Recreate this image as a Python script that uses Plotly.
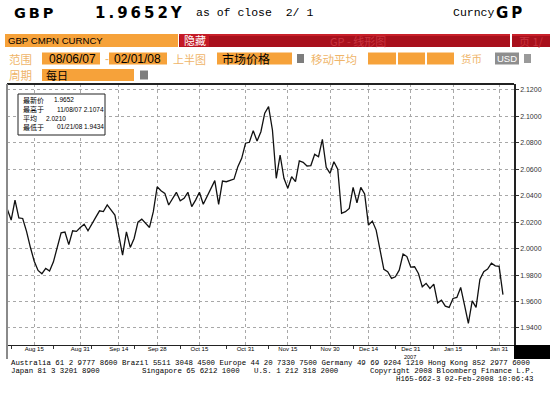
import plotly.graph_objects as go
import pandas as pd

# ---------------- data ----------------
dates = pd.bdate_range("2007-08-06", "2008-02-01").strftime("%Y-%m-%d").tolist()
gbp_close = [
    2.0297, 2.0216, 2.0367, 2.0233, 2.0228, 2.0130, 2.0010, 1.9905, 1.9835, 1.9810,
    1.9850, 1.9830, 1.9900, 2.0010, 2.0120, 2.0125, 2.0030, 2.0135, 2.0130, 2.0160,
    2.0185, 2.0135, 2.0191, 2.0236, 2.0286, 2.0280, 2.0330, 2.0290, 2.0254, 2.0102,
    1.9950, 2.0127, 2.0009, 2.0077, 2.0200, 2.0223, 2.0191, 2.0160, 2.0279, 2.0468,
    2.0438, 2.0418, 2.0330, 2.0380, 2.0426, 2.0362, 2.0380, 2.0426, 2.0317, 2.0367,
    2.0426, 2.0335, 2.0392, 2.0456, 2.0514, 2.0335, 2.0511, 2.0506, 2.0514, 2.0526,
    2.0620, 2.0683, 2.0797, 2.0804, 2.0892, 2.0814, 2.0884, 2.1024, 2.1074, 2.0897,
    2.0532, 2.0708, 2.0532, 2.0456, 2.0544, 2.0506, 2.0663, 2.0653, 2.0625, 2.0628,
    2.0713, 2.0695, 2.0827, 2.0615, 2.0569, 2.0657, 2.0600, 2.0267, 2.0279, 2.0304,
    2.0463, 2.0347, 2.0463, 2.0413, 2.0178, 2.0208, 2.0140, 1.9989, 1.9843, 1.9825,
    1.9775, 1.9787, 1.9837, 1.9959, 1.9940, 1.9860, 1.9863, 1.9812, 1.9711, 1.9737,
    1.9699, 1.9731, 1.9590, 1.9610, 1.9565, 1.9555, 1.9623, 1.9631, 1.9706, 1.9572,
    1.9434, 1.9605, 1.9555, 1.9767, 1.9825, 1.9845, 1.9890, 1.9870, 1.9866, 1.9652,
]
x_tick_dates = ["2007-08-15", "2007-08-31", "2007-09-14", "2007-09-28", "2007-10-15",
                "2007-10-31", "2007-11-15", "2007-11-30", "2007-12-14", "2007-12-31",
                "2008-01-15", "2008-01-31"]
x_tick_text = ["Aug 15", "Aug 31", "Sep 14", "Sep 28", "Oct 15", "Oct 31",
               "Nov 15", "Nov 30", "Dec 14", "Dec 31", "Jan 15", "Jan 31"]
x_minor_dates = ["2007-08-07", "2007-08-22", "2007-09-05", "2007-09-20", "2007-10-08",
                 "2007-10-24", "2007-11-08", "2007-11-23", "2007-12-10", "2007-12-25",
                 "2008-01-08", "2008-01-23"]
y_tick_vals = [1.94, 1.96, 1.98, 2.00, 2.02, 2.04, 2.06, 2.08, 2.10, 2.12]
y_tick_text = ["1.9400", "1.9600", "1.9800", "2.0000", "2.0200",
               "2.0400", "2.0600", "2.0800", "2.1000", "2.1200"]

stat_labels = ["最新价", "最高于", "平均", "最低于"]
stat_values = ["1.9652", "11/08/07 2.1074", "2.0210", "01/21/08 1.9434"]

header_ticker = "GBP"
header_price = "1.9652Y"
header_close = "as of close  2/ 1"
range_start_txt = "08/06/07"
range_end_txt = "02/01/08"

footer_line1 = "Australia 61 2 9777 8600 Brazil 5511 3048 4500 Europe 44 20 7330 7500 Germany 49 69 9204 1210 Hong Kong 852 2977 6000"
footer_line2 = ["Japan 81 3 3201 8900", "Singapore 65 6212 1000", "U.S. 1 212 318 2000",
                "Copyright 2008 Bloomberg Finance L.P."]
footer_line3 = "H165-662-3 02-Feb-2008 10:06:43"

# ---------------- geometry helpers (pixels -> paper) ----------------
W, H = 550, 393
L, R, T, B = 7, 514, 84, 345


def fx(px):
    return (px - L) / (R - L)


def fy(py):
    return (B - py) / (B - T)


ORANGE = "#f6a23a"
FADED = "#efb56a"
RED = "#a8101c"
CJK = "Noto Sans CJK SC"
SANS = "Liberation Sans"
MONO = "Liberation Mono"

fig = go.Figure()
fig.add_trace(go.Scatter(x=dates, y=gbp_close, mode="lines",
                         line=dict(color="#111111", width=1.3),
                         hoverinfo="x+y", showlegend=False))

shapes = []
annots = []


def rect(x0, y0, x1, y1, fill, line=None, lw=0):
    shapes.append(dict(type="rect", xref="paper", yref="paper",
                       x0=fx(x0), x1=fx(x1), y0=fy(y1), y1=fy(y0),
                       fillcolor=fill, line=dict(color=line or fill, width=lw),
                       layer="above"))


def text(x, y, s, size=9, color="black", family=SANS, anchor="left", bold=False):
    if bold:
        s = "<b>" + s + "</b>"
    annots.append(dict(x=fx(x), y=fy(y), xref="paper", yref="paper", text=s,
                       showarrow=False, xanchor=anchor, yanchor="middle",
                       font=dict(size=size, color=color, family=family)))


TS = "\u2009"
# ---- header line ----
text(12, 13, TS.join(header_ticker), size=14.5, family="DejaVu Sans", bold=True)
text(93, 13, TS.join(header_price), size=15, family="DejaVu Sans", bold=True)
text(194, 13, header_close, size=11.5, family=MONO)
text(451, 13, "Curncy", size=11.5, family=MONO)
text(494, 13, TS.join("GP"), size=15, family="DejaVu Sans", bold=True)

# ---- row 1 ----
rect(5, 34, 178, 47, ORANGE)
text(6, 40.5, "GBP CMPN CURNCY", size=9.6, family=SANS)
rect(179, 34, 510, 47, RED)
rect(179, 34, 510, 36, "#c8202a")
rect(180, 34.5, 209, 46.5, "#c41a26")
text(182, 40.5, "隐藏", size=11, color="white", family=CJK)
text(358, 41, "GP - 线形图", size=11, color="#c9343f", family=CJK, anchor="center")
rect(512, 34, 550, 47, RED)
rect(512, 34, 550, 36, "#c8202a")
text(517, 41, "页 1/", size=11, color="#c9343f", family=CJK)

# ---- row 2 ----
y2 = 58.5
text(7, y2, "范围", size=11.5, color=FADED, family=CJK)
rect(42, 52.5, 100, 64.5, ORANGE)
text(47, y2, range_start_txt, size=12, family=SANS)
text(103, y2, "-", size=12, color=FADED, family=SANS)
rect(109, 52.5, 167, 64.5, ORANGE)
text(112, y2, range_end_txt, size=12, family=SANS)
text(171, y2, "上半图", size=11, color=FADED, family=CJK)
rect(217, 52.5, 292, 64.5, ORANGE)
text(220, y2, "市场价格", size=12, family=CJK)
rect(297, 54, 304, 63, "#7d7d7d")
text(309, y2, "移动平均", size=11.5, color=FADED, family=CJK)
rect(368, 52.5, 396, 64.5, ORANGE)
rect(398, 52.5, 425, 64.5, ORANGE)
rect(427, 52.5, 454, 64.5, ORANGE)
text(459, y2, "货币", size=10.5, color=FADED, family=CJK)
rect(495, 52.5, 519, 64.5, "#8e8e8e")
text(507, y2, "USD", size=9.5, color="white", family=SANS, anchor="center")
rect(524, 54, 531, 63, "#9a9a9a")

# ---- row 3 ----
y3 = 75
text(7, y3, "周期", size=11.5, color=FADED, family=CJK)
rect(42, 69, 134, 81, ORANGE)
text(44, y3, "每日", size=11, family=CJK)
rect(140, 70.5, 148, 79.5, "#7d7d7d")

# ---- info box ----
rect(18, 94, 105, 135, "white", line="#222222", lw=1)
ys = [100, 109, 118, 127]
xs = [52, 55, 44, 55]
for yy, lab, xv, val in zip(ys, stat_labels, xs, stat_values):
    text(21, yy, lab, size=7, family=CJK)
    text(xv, yy, val, size=6.5, family=SANS)

# ---- frame extras ----
shapes.append(dict(type="line", xref="paper", yref="paper", x0=fx(L), x1=fx(R),
                   y0=fy(T), y1=fy(T), line=dict(color="#222222", width=2), layer="above"))
shapes.append(dict(type="line", xref="paper", yref="paper", x0=fx(L), x1=fx(L),
                   y0=fy(359), y1=fy(T), line=dict(color="#8a8a8a", width=2), layer="above"))
rect(514, 345, 550, 359, "#000000")
text(410, 357, "2007", size=5.5, family=SANS, anchor="center")

# ---- footer ----
text(9, 363, footer_line1, size=7.4, family=MONO)
text(9, 371, footer_line2[0], size=7.4, family=MONO)
text(140, 371, footer_line2[1], size=7.4, family=MONO)
text(252, 371, footer_line2[2], size=7.4, family=MONO)
text(536, 371, footer_line2[3], size=7.4, family=MONO, anchor="right")
text(536, 379, footer_line3, size=7.4, family=MONO, anchor="right")

fig.update_layout(
    width=W, height=H, autosize=False,
    margin=dict(l=L, r=W - R, t=T, b=H - B, pad=0),
    paper_bgcolor="white", plot_bgcolor="white",
    shapes=shapes, annotations=annots, showlegend=False,
    xaxis=dict(
        type="date",
        range=["2007-08-05 22:00", "2008-02-05 21:00"],
        rangebreaks=[dict(bounds=["sat", "mon"])],
        tickmode="array", tickvals=x_tick_dates, ticktext=x_tick_text,
        tickfont=dict(size=6, family=SANS, color="black"),
        ticklabelstandoff=-2,
        showgrid=True, gridcolor="#a8a8a8", griddash="dot", gridwidth=1,
        showline=True, linecolor="#222222", linewidth=1, mirror=False,
        ticks="", zeroline=False, fixedrange=True,
        minor=dict(tickmode="array", tickvals=x_minor_dates, ticks="outside",
                   ticklen=3, tickcolor="#333333", showgrid=False),
    ),
    yaxis=dict(
        side="right", range=[1.9271, 2.1245],
        tickmode="array", tickvals=y_tick_vals, ticktext=y_tick_text,
        tickfont=dict(size=7, family=SANS, color="#333333"),
        ticks="outside", ticklen=3, tickcolor="#333333",
        showgrid=True, gridcolor="#a8a8a8", griddash="dot", gridwidth=1,
        showline=True, linecolor="#222222", linewidth=1.5,
        zeroline=False, fixedrange=True,
    ),
)

fig.write_html("out.html")
